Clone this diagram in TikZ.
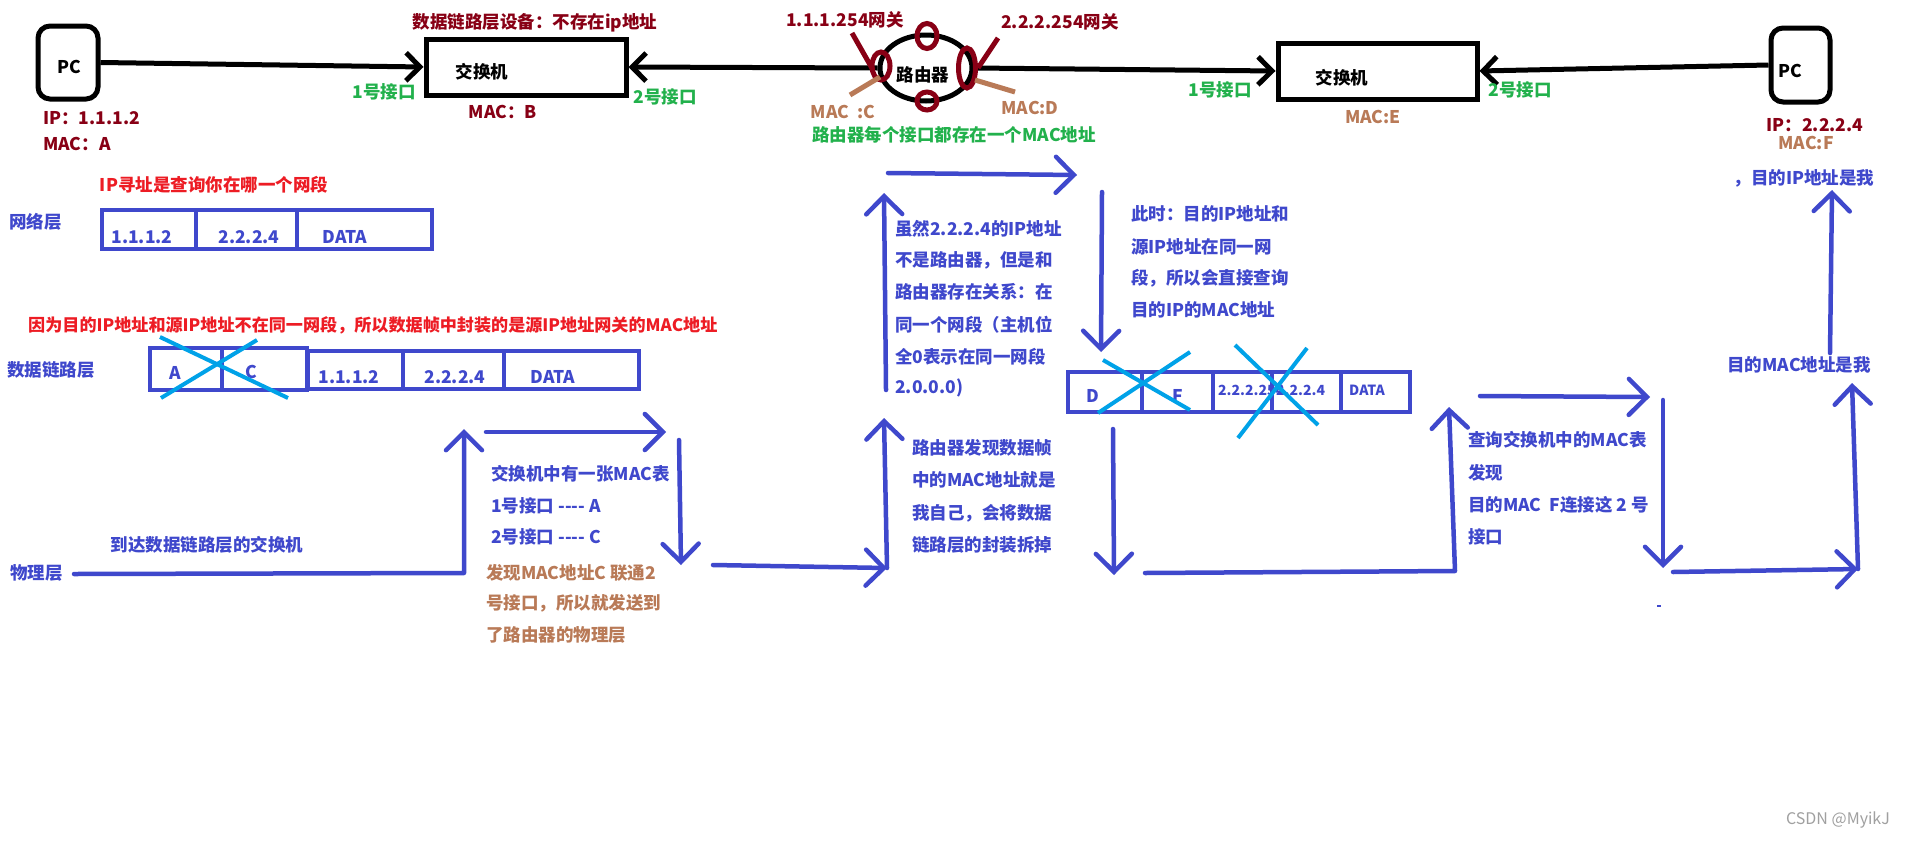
\documentclass[tikz,border=0pt]{standalone}
\usepackage{fontspec}
\setmainfont{Noto Sans CJK SC}
\usetikzlibrary{arrows.meta,shapes.geometric}
\definecolor{dred}{HTML}{880015}
\definecolor{grn}{HTML}{22B14C}
\definecolor{brn}{HTML}{B97A57}
\definecolor{bl}{HTML}{3F48CC}
\definecolor{rd}{HTML}{ED1C24}
\definecolor{lb}{HTML}{00A2E8}
\definecolor{wm}{HTML}{A0A0A0}
\newcommand{\hy}{-\kern0pt-\kern0pt-\kern0pt-}
\begin{document}
\begin{tikzpicture}[x=1pt,y=-1pt,
  txt/.style={inner sep=0pt, font=\fontsize{17.5}{20}\selectfont\bfseries},
  stxt/.style={inner sep=0pt, font=\fontsize{14}{16}\selectfont\bfseries},
  kbox/.style={draw=black, line width=5pt, inner sep=0pt},
  kline/.style={draw=black, line width=5pt},
  karrow/.style={kline, -{Straight Barb[length=14pt,width=28pt]}},
  bline/.style={draw=bl, line width=4.5pt, line cap=round, line join=round},
  barrow/.style={bline, -{Straight Barb[length=18pt,width=36pt,line cap=round]}},
  cell/.style={draw=bl, line width=4.5pt, inner sep=0pt},
  xline/.style={draw=lb, line width=4pt},
  ring/.style={ellipse, draw=dred, line width=5pt, inner sep=0pt},
  rline/.style={draw=dred, line width=5pt},
  bnline/.style={draw=brn, line width=5pt}]
\useasboundingbox (0,0) rectangle (1910,841);
\fill[white] (0,0) rectangle (1910,841);

% ---------- top row devices ----------
\node[kbox, rounded corners=12pt, minimum width=60pt, minimum height=73pt] (pc1) at (68,62.5) {};
\node[txt] (pc1t) at (69,67) {PC};
\node[kbox, minimum width=200pt, minimum height=56pt] (sw1) at (526,67) {};
\node[txt] (sw1t) at (482,72) {交换机};
\node[ellipse, kbox, minimum width=92pt, minimum height=66pt] (rt) at (926,68) {};
\node[txt] (rtt) at (923,75) {路由器};
\node[kbox, minimum width=199pt, minimum height=56pt] (sw2) at (1377.5,71) {};
\node[txt] (sw2t) at (1342,78) {交换机};
\node[kbox, rounded corners=12pt, minimum width=59pt, minimum height=74pt] (pc2) at (1800.5,65) {};
\node[txt] (pc2t) at (1790,71) {PC};

\draw[karrow] (pc1.east) -- (sw1.west);
\draw[karrow] (rt.west) -- (sw1.east);
\draw[karrow] (rt.east) -- (sw2.west);
\draw[karrow] (pc2.west) -- (sw2.east);

% router interface marks
\node[ring, minimum width=20pt, minimum height=25pt] (rtop) at (927,36) {};
\node[ring, minimum width=20pt, minimum height=18pt] (rbot) at (927,101) {};
\node[ring, minimum width=18pt, minimum height=28pt] (rleft) at (881,66) {};
\node[ring, minimum width=17pt, minimum height=40pt] (rright) at (967,68) {};
\coordinate (dl1) at (852,33); \coordinate (dl2) at (873,70);
\coordinate (dr1) at (998,38); \coordinate (dr2) at (978,68);
\coordinate (bl1) at (880,77); \coordinate (bl2) at (850,95);
\coordinate (br1) at (975,80); \coordinate (br2) at (1015,92);
\draw[rline] (dl1) -- (dl2);
\draw[rline] (dr1) -- (dr2);
\draw[bnline] (bl1) -- (bl2);
\draw[bnline] (br1) -- (br2);

% top labels
\node[txt, text=dred] (t1) at (535,23) {数据链路层设备：不存在ip地址};
\node[txt, text=dred, anchor=west] (t2) at (43,118) {IP：1.1.1.2};
\node[txt, text=dred, anchor=west] (t3) at (43,144) {MAC：A};
\node[txt, text=dred] (t4) at (503,112) {MAC：B};
\node[txt, text=dred] (t5) at (845,20) {1.1.1.254网关};
\node[txt, text=dred] (t6) at (1060,22) {2.2.2.254网关};
\node[txt, text=dred] (t7) at (1815,125) {IP：2.2.2.4};
\node[txt, text=grn] (g1) at (384,92) {1号接口};
\node[txt, text=grn] (g2) at (665,97) {2号接口};
\node[txt, text=grn] (g3) at (1220,90) {1号接口};
\node[txt, text=grn] (g4) at (1520,90) {2号接口};
\node[txt, text=grn] (g5) at (954,135) {路由器每个接口都存在一个MAC地址};
\node[txt, text=brn] (m1) at (843,112) {MAC\ \ :C};
\node[txt, text=brn] (m2) at (1030,108) {MAC:D};
\node[txt, text=brn] (m3) at (1373,117) {MAC:E};
\node[txt, text=brn] (m4) at (1806,143) {MAC:F};
\node[txt, text=bl] (m5) at (1804,178) {，目的IP地址是我};

% ---------- network layer ----------
\node[txt, text=bl, anchor=west] (L1) at (9,222) {网络层};
\node[txt, text=rd] (r1) at (214,185) {IP寻址是查询你在哪一个网段};
\node[cell, minimum width=94pt, minimum height=39pt] (n1) at (149,229.5) {};
\node[cell, minimum width=101pt, minimum height=39pt] (n2) at (246.5,229.5) {};
\node[cell, minimum width=135pt, minimum height=39pt] (n3) at (364.5,229.5) {};
\node[txt, text=bl] (n1t) at (142,237) {1.1.1.2};
\node[txt, text=bl] (n2t) at (249,237) {2.2.2.4};
\node[txt, text=bl] (n3t) at (345,237) {DATA};

% ---------- data link layer ----------
\node[txt, text=rd, anchor=west, font=\fontsize{17.1}{20}\selectfont\bfseries] (r2) at (28,325) {因为目的IP地址和源IP地址不在同一网段，所以数据帧中封装的是源IP地址网关的MAC地址};
\node[txt, text=bl, anchor=west] (L2) at (7,370) {数据链路层};
\node[cell, minimum width=72pt, minimum height=42pt] (dA) at (186,369) {};
\node[cell, minimum width=85pt, minimum height=42pt] (dC) at (264.5,369) {};
\node[cell, minimum width=95pt, minimum height=38pt] (d1) at (355.5,370) {};
\node[cell, minimum width=101pt, minimum height=38pt] (d2) at (453.5,370) {};
\node[cell, minimum width=135pt, minimum height=38pt] (d3) at (571.5,370) {};
\node[txt, text=bl] (dAt) at (175,373) {A};
\node[txt, text=bl] (dCt) at (251,372) {C};
\node[txt, text=bl] (d1t) at (349,377) {1.1.1.2};
\node[txt, text=bl] (d2t) at (455,377) {2.2.2.4};
\node[txt, text=bl] (d3t) at (553,377) {DATA};
\draw[xline] (161,398) -- (257,340);
\draw[xline] (160,337) -- (288,398);

% ---------- physical layer ----------
\node[txt, text=bl, anchor=west] (L3) at (10,573) {物理层};
\node[txt, text=bl] (ph) at (207,545) {到达数据链路层的交换机};

\coordinate (p0) at (74,574);
\coordinate (p1) at (464,573);
\coordinate (p2) at (464,429);
\coordinate (p3) at (486,432);
\coordinate (p4) at (666,432);
\coordinate (p5) at (679,440);
\coordinate (p6) at (681,565);
\coordinate (p7) at (713,565);
\coordinate (p8) at (887,568);
\coordinate (p9) at (884,418);
\coordinate (p10) at (886,390);
\coordinate (p11) at (884,193);
\coordinate (p12) at (888,173);
\coordinate (p13) at (1077,175);
\coordinate (p14) at (1102,192);
\coordinate (p15) at (1101,352);
\coordinate (p16) at (1113,429);
\coordinate (p17) at (1114,575);
\coordinate (p18) at (1145,573);
\coordinate (p19) at (1455,571);
\coordinate (p20) at (1449,407);
\coordinate (p21) at (1480,396);
\coordinate (p22) at (1650,397);
\coordinate (p23) at (1663,400);
\coordinate (p24) at (1663,568);
\coordinate (p25) at (1673,572);
\coordinate (p26) at (1858,569);
\coordinate (p27) at (1852,383);
\coordinate (p28) at (1830,353);
\coordinate (p29) at (1832,190);

\draw[barrow] (p0) -- (p1) -- (p2);
\draw[barrow] (p3) -- (p4);
\draw[barrow] (p5) -- (p6);
\draw[barrow] (p7) -- (p8);
\draw[barrow] (p8) -- (p9);
\draw[barrow] (p10) -- (p11);
\draw[barrow] (p12) -- (p13);
\draw[barrow] (p14) -- (p15);
\draw[barrow] (p16) -- (p17);
\draw[barrow] (p18) -- (p19) -- (p20);
\draw[barrow] (p21) -- (p22);
\draw[barrow] (p23) -- (p24);
\draw[barrow] (p25) -- (p26);
\draw[barrow] (p26) -- (p27);
\draw[barrow] (p28) -- (p29);

\node[txt, text=bl, anchor=west] (s1) at (491,474) {交换机中有一张MAC表};
\node[txt, text=bl, anchor=west] (s2) at (491,506) {1号接口 \hy{} A};
\node[txt, text=bl, anchor=west] (s3) at (491,537) {2号接口 \hy{} C};
\node[txt, text=brn, anchor=west] (s4) at (486,573) {发现MAC地址C 联通2};
\node[txt, text=brn, anchor=west] (s5) at (486,603) {号接口，所以就发送到};
\node[txt, text=brn, anchor=west] (s6) at (486,635) {了路由器的物理层};

\node[txt, text=bl, anchor=west] (u1) at (912,448) {路由器发现数据帧};
\node[txt, text=bl, anchor=west] (u2) at (912,480) {中的MAC地址就是};
\node[txt, text=bl, anchor=west] (u3) at (912,513) {我自己，会将数据};
\node[txt, text=bl, anchor=west] (u4) at (912,545) {链路层的封装拆掉};

\node[txt, text=bl, anchor=west] (v1) at (895,229) {虽然2.2.2.4的IP地址};
\node[txt, text=bl, anchor=west] (v2) at (895,260) {不是路由器，但是和};
\node[txt, text=bl, anchor=west] (v3) at (895,292) {路由器存在关系：在};
\node[txt, text=bl, anchor=west] (v4) at (895,325) {同一个网段（主机位};
\node[txt, text=bl, anchor=west] (v5) at (895,357) {全0表示在同一网段};
\node[txt, text=bl, anchor=west] (v6) at (895,388) {2.0.0.0)};

\node[txt, text=bl, anchor=west] (w1) at (1131,214) {此时：目的IP地址和};
\node[txt, text=bl, anchor=west] (w2) at (1131,247) {源IP地址在同一网};
\node[txt, text=bl, anchor=west] (w3) at (1131,278) {段，所以会直接查询};
\node[txt, text=bl, anchor=west] (w4) at (1131,310) {目的IP的MAC地址};

% frame after the router
\node[cell, minimum width=74pt, minimum height=40pt] (f1) at (1105,392) {};
\node[cell, minimum width=71pt, minimum height=40pt] (f2) at (1177.5,392) {};
\node[cell, minimum width=59pt, minimum height=40pt] (f3) at (1242.5,392) {};
\node[cell, minimum width=69pt, minimum height=40pt] (f4) at (1306.5,392) {};
\node[cell, minimum width=69pt, minimum height=40pt] (f5) at (1375.5,392) {};
\node[txt, text=bl] (f1t) at (1093,396) {D};
\node[txt, text=bl] (f2t) at (1178,396) {F};
\node[stxt, text=bl, anchor=west] (f3t) at (1218,390) {2.2.2.254};
\node[stxt, text=bl, anchor=west] (f4t) at (1276,390) {2.2.2.4};
\node[stxt, text=bl] (f5t) at (1367,390) {DATA};
\draw[xline] (1103,360) -- (1190,410);
\draw[xline] (1098,413) -- (1190,352);
\draw[xline] (1235,345) -- (1318,425);
\draw[xline] (1307,348) -- (1238,438);

\node[txt, text=bl, anchor=west] (q1) at (1468,440) {查询交换机中的MAC表};
\node[txt, text=bl, anchor=west] (q2) at (1468,473) {发现};
\node[txt, text=bl, anchor=west] (q3) at (1468,505) {目的MAC\ \ F连接这 2 号};
\node[txt, text=bl, anchor=west] (q4) at (1468,537) {接口};
\node[txt, text=bl] (q5) at (1799,365) {目的MAC地址是我};

\draw[draw=bl, line width=1.5pt] (1657,606) -- (1661,606);

\node[inner sep=0pt, text=wm, font=\fontsize{16}{18}\selectfont] (wmk) at (1838,820) {CSDN @MyikJ};
\end{tikzpicture}
\end{document}
